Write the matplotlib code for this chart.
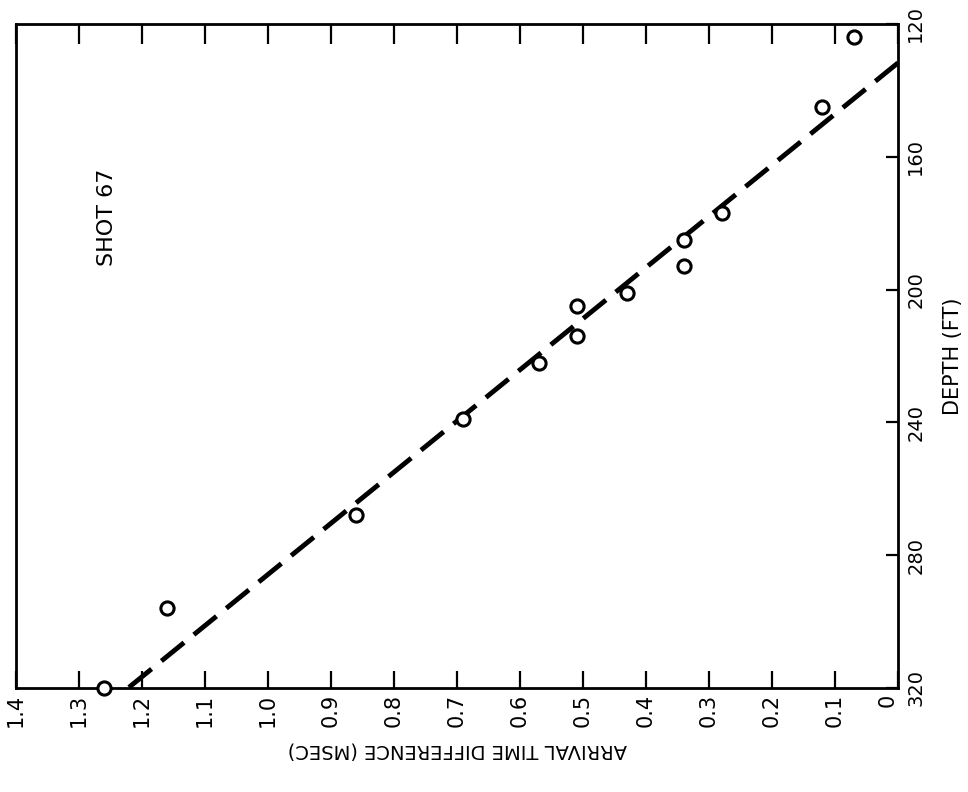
import matplotlib
matplotlib.use("Agg")
import matplotlib.pyplot as plt

# Data
time_ms = [0.07, 0.12, 0.28, 0.34, 0.34, 0.43, 0.51, 0.51, 0.57, 0.69, 0.86, 1.16, 1.26]
depth_ft = [124, 145, 177, 185, 193, 201, 205, 214, 222, 239, 268, 296, 320]
fit_time = [0.0, 1.222]
fit_depth = [131.7, 320.0]

x_ticks = [1.4, 1.3, 1.2, 1.1, 1.0, 0.9, 0.8, 0.7, 0.6, 0.5, 0.4, 0.3, 0.2, 0.1, 0.0]
x_labels = ["1.4", "1.3", "1.2", "1.1", "1.0", "0.9", "0.8", "0.7", "0.6", "0.5",
            "0.4", "0.3", "0.2", "0.1", "0"]
y_ticks = [120, 160, 200, 240, 280, 320]
y_labels = ["120", "160", "200", "240", "280", "320"]

plt.rcParams['font.family'] = ['DejaVu Sans']

fig = plt.figure(figsize=(9.68, 7.92), dpi=100)
ax = fig.add_axes([16 / 968, 1 - 688 / 792, (898 - 16) / 968, (688 - 24) / 792])

ax.plot(fit_time, fit_depth, color='black', lw=3.5, linestyle=(0, (6, 2.6)),
        solid_capstyle='butt', dash_capstyle='butt', zorder=2)
ax.plot(time_ms, depth_ft, linestyle='none', marker='o', markersize=9.5,
        markerfacecolor='white', markeredgecolor='black', markeredgewidth=2.2,
        zorder=3, clip_on=False)

ax.set_xlim(1.4, 0.0)
ax.set_ylim(320, 120)

for s in ax.spines.values():
    s.set_linewidth(2.0)
    s.set_color('black')

# x axis: ticks inside on bottom and top, labels bottom only
ax.set_xticks(x_ticks)
ax.set_xticklabels(x_labels, rotation=90, fontsize=15)
ax.tick_params(axis='x', which='both', direction='in', bottom=True, top=True,
               labelbottom=True, labeltop=False, length=12, width=1.6, pad=4,
               color='black')
for t in ax.xaxis.get_major_ticks():
    t.tick2line.set_markersize(14.5)
ax.get_xticklabels()[-1].set_horizontalalignment('right')

# y axis on the right, ticks inside
ax.yaxis.tick_right()
ax.set_yticks(y_ticks)
ax.set_yticklabels(y_labels, rotation=90, fontsize=14)
ax.tick_params(axis='y', which='both', direction='in', left=False, right=True,
               labelleft=False, labelright=True, length=8.5, width=1.6, pad=6,
               color='black')
for lab in ax.get_yticklabels():
    lab.set_verticalalignment('center')

ax.set_xlabel("ARRIVAL TIME DIFFERENCE (MSEC)", rotation=180, fontsize=14, labelpad=10)
ax.yaxis.set_label_position('right')
ax.set_ylabel("DEPTH (FT)", rotation=90, fontsize=15, labelpad=13)

ax.text(0.103, 0.709, "SHOT 67", rotation=90, fontsize=16, ha='center', va='center',
        transform=ax.transAxes)

fig.savefig("out.png", dpi=100)
